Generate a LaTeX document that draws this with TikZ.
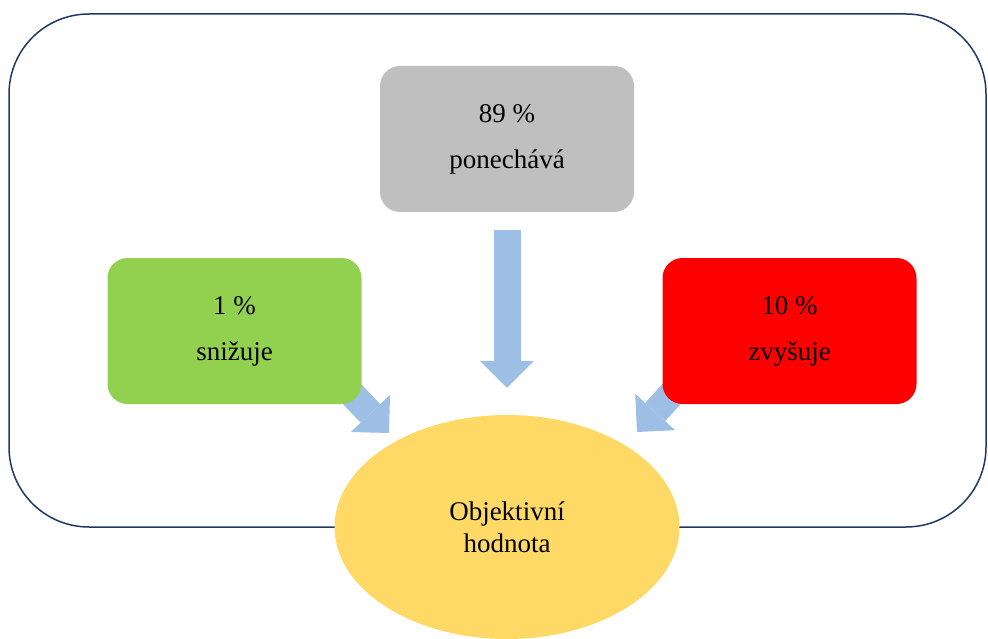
\documentclass[tikz,border=0pt]{standalone}
\usepackage{fontspec}
\setmainfont{Liberation Serif}
\usetikzlibrary{arrows.meta,backgrounds,shapes.geometric}
\definecolor{cKeep}{HTML}{BFBFBF}
\definecolor{cLow}{HTML}{92D050}
\definecolor{cHigh}{HTML}{FF0000}
\definecolor{cGoal}{HTML}{FFD966}
\definecolor{cFrame}{HTML}{1F3864}
\definecolor{cArrow}{HTML}{9DBFE6}
\tikzset{
  card/.style={rounded corners=20pt, align=center, inner sep=0pt,
    minimum width=254pt, minimum height=146pt,
    font=\fontsize{27}{46}\selectfont},
  keepcard/.style={card, fill=cKeep},
  lowcard/.style={card, fill=cLow},
  highcard/.style={card, fill=cHigh},
  goalnode/.style={ellipse, fill=cGoal, inner sep=0pt, align=center,
    minimum width=345pt, minimum height=224pt,
    font=\fontsize{27}{32}\selectfont},
  panel/.style={draw=cFrame, line width=1.5pt, rounded corners=80pt,
    inner sep=0pt, minimum width=977pt, minimum height=513pt},
  blockarrow/.style={draw=cArrow, line width=27pt,
    -{Triangle[width=54pt, length=27pt, line width=0pt]}},
}
\begin{document}
\begin{tikzpicture}[x=1pt, y=-1pt]
    \useasboundingbox (0,0) rectangle (988,639);
    % --- boxes ---
    \node[keepcard] (keep) at (507,139) {89 \%\\ponechává};
    \node[lowcard] (low) at (234.5,331) {1 \%\\snižuje};
    \node[highcard] (high) at (789.5,331) {10 \%\\zvyšuje};
    \node[goalnode] (goal) at (507,527) {Objektivní\\hodnota};
    \coordinate (tipL) at (389,433);
    \coordinate (tipR) at (637,432);
    % --- frame and arrows behind ---
    \begin{scope}[on background layer]
      \node[panel] (frame) at (497.5,270.5) {};
      \draw[blockarrow, shorten <=18pt, shorten >=27pt] (keep.south) -- (goal.north);
      \draw[blockarrow, shorten <=-30pt] (low.south east) -- (tipL);
      \draw[blockarrow, shorten <=-30pt] (high.south west) -- (tipR);
    \end{scope}
\end{tikzpicture}
\end{document}
